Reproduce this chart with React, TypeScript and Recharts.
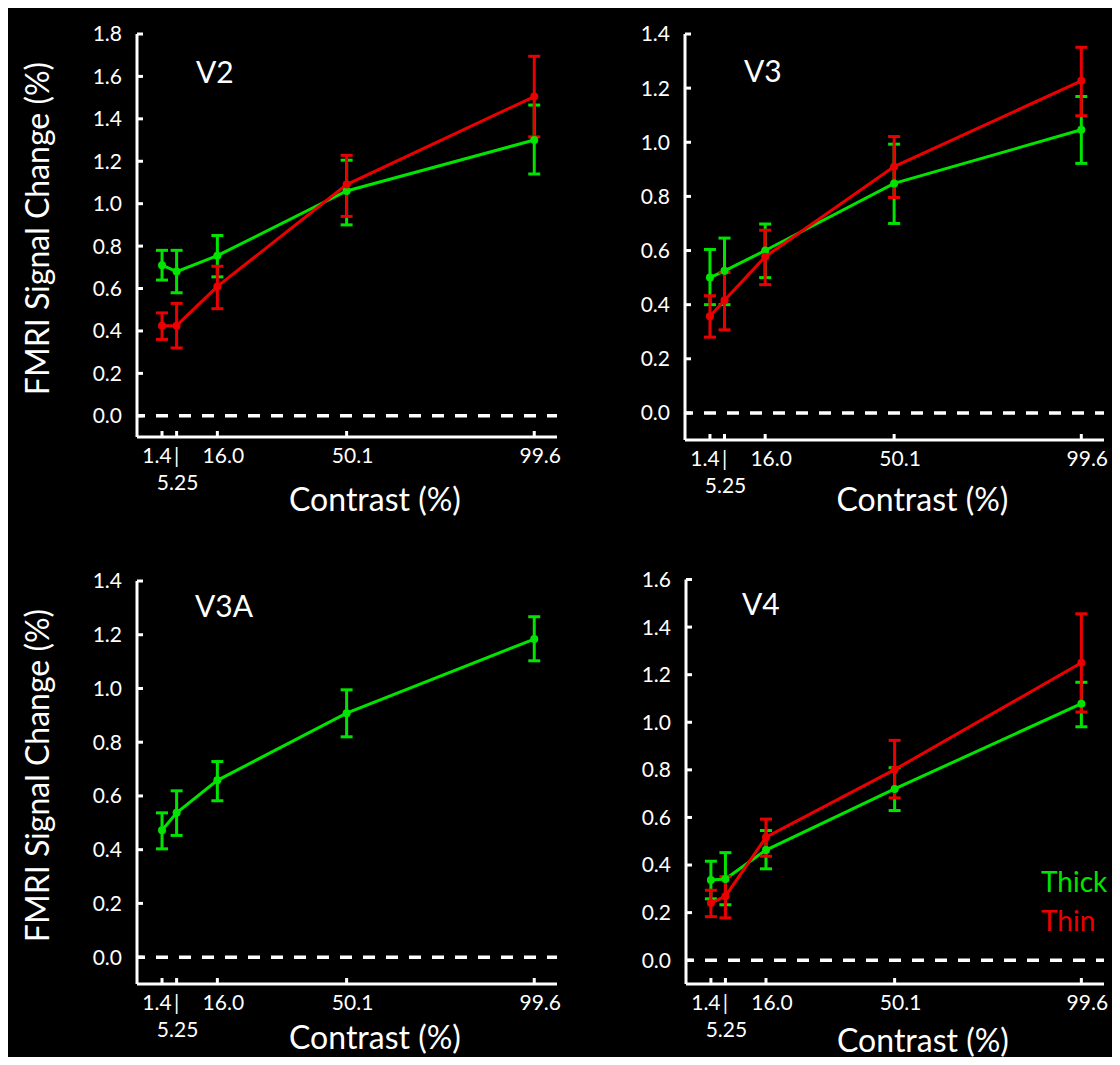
import { LineChart, Line, XAxis, YAxis, ReferenceLine, ErrorBar, Legend } from 'recharts';

const GREEN = '#00e400';
const RED = '#ea0000';
const WHITE = '#ffffff';
const FONT = "Lato, 'Open Sans', sans-serif";

// contrast levels (%) shared by all four areas
const contrast = [1.4, 5.25, 16.0, 50.1, 99.6];
const xTicks = [1.4, 5.25, 16.0, 50.1, 99.6];
const xDomain = [-5.2, 105.6];

const ticks18 = [0, 0.2, 0.4, 0.6, 0.8, 1.0, 1.2, 1.4, 1.6, 1.8];
const ticks14 = [0, 0.2, 0.4, 0.6, 0.8, 1.0, 1.2, 1.4];
const ticks16 = [0, 0.2, 0.4, 0.6, 0.8, 1.0, 1.2, 1.4, 1.6];

// V2
const v2Thick = [0.71, 0.68, 0.755, 1.06, 1.30];
const v2ThickLo = [0.64, 0.58, 0.655, 0.90, 1.14];
const v2ThickHi = [0.78, 0.78, 0.85, 1.205, 1.465];
const v2Thin = [0.425, 0.425, 0.61, 1.09, 1.505];
const v2ThinLo = [0.36, 0.32, 0.505, 0.94, 1.315];
const v2ThinHi = [0.485, 0.53, 0.705, 1.228, 1.695];

// V3
const v3Thick = [0.50, 0.525, 0.60, 0.848, 1.046];
const v3ThickLo = [0.40, 0.40, 0.50, 0.70, 0.922];
const v3ThickHi = [0.604, 0.646, 0.698, 0.993, 1.169];
const v3Thin = [0.357, 0.416, 0.577, 0.91, 1.227];
const v3ThinLo = [0.28, 0.307, 0.474, 0.796, 1.098];
const v3ThinHi = [0.433, 0.519, 0.675, 1.021, 1.351];

// V3A (thick only)
const v3aThick = [0.472, 0.537, 0.658, 0.908, 1.184];
const v3aThickLo = [0.403, 0.453, 0.582, 0.82, 1.103];
const v3aThickHi = [0.537, 0.619, 0.728, 0.995, 1.267];

// V4
const v4Thick = [0.337, 0.341, 0.463, 0.72, 1.078];
const v4ThickLo = [0.258, 0.233, 0.384, 0.629, 0.981];
const v4ThickHi = [0.416, 0.452, 0.545, 0.809, 1.168];
const v4Thin = [0.24, 0.269, 0.517, 0.801, 1.25];
const v4ThinLo = [0.183, 0.178, 0.437, 0.682, 1.043];
const v4ThinHi = [0.294, 0.351, 0.593, 0.924, 1.456];

type Row = { c: number; thick: number; thickErr: number[]; thin?: number; thinErr?: number[] };

function buildRows(
  thick: number[], thickLo: number[], thickHi: number[],
  thin?: number[], thinLo?: number[], thinHi?: number[],
): Row[] {
  return contrast.map((c, i) => {
    const r: Row = { c, thick: thick[i], thickErr: [thick[i] - thickLo[i], thickHi[i] - thick[i]] };
    if (thin && thinLo && thinHi) {
      r.thin = thin[i];
      r.thinErr = [thin[i] - thinLo[i], thinHi[i] - thin[i]];
    }
    return r;
  });
}

function XTick({ x, y, payload }: any) {
  const v = payload.value as number;
  const common = { fill: WHITE, fontSize: 21, textAnchor: 'middle' as const, dominantBaseline: 'central' as const };
  if (v === 1.4) return <text x={x - 5} y={y + 17} {...common}>1.4</text>;
  if (v === 5.25) {
    return (
      <g>
        <text x={x} y={y + 17} {...common}>|</text>
        <text x={x + 1} y={y + 44} {...common}>5.25</text>
      </g>
    );
  }
  return <text x={x + 6} y={y + 17} {...common}>{v.toFixed(1)}</text>;
}

function LegendBox({ payload }: any) {
  return (
    <div style={{ fontSize: 28, lineHeight: '39px', textAlign: 'left', fontFamily: FONT }}>
      {(payload || []).map((p: any) => (
        <div key={p.value} style={{ color: p.color }}>{p.value}</div>
      ))}
    </div>
  );
}

interface PanelProps {
  title: string;
  rows: Row[];
  hasThin: boolean;
  yMax: number;
  yTicks: number[];
  left: number;
  top: number;
  height: number;
  marginTop: number;
  marginRight: number;
  yWidth: number;
  xHeight: number;
  xLabelDy: number;
  titleLeft: number;
  titleTop: number;
  showYLabel?: boolean;
  showLegend?: boolean;
}

function Panel(p: PanelProps) {
  const W = 556;
  return (
    <div style={{ position: 'absolute', left: p.left, top: p.top, width: W, height: p.height }}>
      <LineChart
        width={W}
        height={p.height}
        data={p.rows}
        margin={{ top: p.marginTop, right: p.marginRight, left: 0, bottom: 0 }}
      >
        <XAxis
          dataKey="c"
          type="number"
          domain={xDomain}
          ticks={xTicks}
          allowDataOverflow
          height={p.xHeight}
          tickSize={-6}
          tickMargin={6}
          axisLine={{ stroke: WHITE, strokeWidth: 3 }}
          tickLine={{ stroke: WHITE, strokeWidth: 3 }}
          tick={<XTick />}
          interval={0}
          label={(lp: any) => {
            const vb = lp.viewBox;
            return (
              <text
                x={vb.x + vb.width / 2 + 28}
                y={vb.y + p.xLabelDy}
                fill={WHITE}
                fontSize={32}
                textAnchor="middle"
                dominantBaseline="central"
              >Contrast (%)</text>
            );
          }}
        />
        <YAxis
          type="number"
          domain={[-0.1, p.yMax]}
          ticks={p.yTicks}
          allowDataOverflow
          width={p.yWidth}
          tickSize={-6}
          tickMargin={21}
          interval={0}
          axisLine={{ stroke: WHITE, strokeWidth: 3 }}
          tickLine={{ stroke: WHITE, strokeWidth: 3 }}
          tick={{ fill: WHITE, fontSize: 21 }}
          tickFormatter={(v: number) => v.toFixed(1)}
          label={p.showYLabel ? (lp: any) => {
            const vb = lp.viewBox;
            const cx = vb.x + 28;
            const cy = vb.y + vb.height / 2 - 7;
            return (
              <text
                x={cx}
                y={cy}
                transform={`rotate(-90 ${cx} ${cy})`}
                fill={WHITE}
                fontSize={32}
                textAnchor="middle"
                dominantBaseline="central"
              >FMRI Signal Change (%)</text>
            );
          } : undefined}
        />
        <ReferenceLine y={0} stroke={WHITE} strokeWidth={3.5} strokeDasharray="12 11" strokeDashoffset={4} />
        <Line
          dataKey="thick"
          name="Thick"
          stroke={GREEN}
          strokeWidth={3}
          dot={{ r: 4, fill: GREEN, stroke: GREEN, strokeWidth: 0 }}
          isAnimationActive={false}
        >
          <ErrorBar dataKey="thickErr" direction="y" width={6} stroke={GREEN} strokeWidth={3} isAnimationActive={false} />
        </Line>
        {p.hasThin && (
          <Line
            dataKey="thin"
            name="Thin"
            stroke={RED}
            strokeWidth={3}
            dot={{ r: 4, fill: RED, stroke: RED, strokeWidth: 0 }}
            isAnimationActive={false}
          >
            <ErrorBar dataKey="thinErr" direction="y" width={6} stroke={RED} strokeWidth={3} isAnimationActive={false} />
          </Line>
        )}
        {p.showLegend && (
          <Legend
            layout="horizontal"
            verticalAlign="middle"
            align="center"
            content={<LegendBox />}
            wrapperStyle={{ left: 477, top: 326, width: 'auto' }}
          />
        )}
      </LineChart>
      <div
        style={{
          position: 'absolute', left: p.titleLeft, top: p.titleTop,
          color: WHITE, fontSize: 30, lineHeight: '30px', fontFamily: FONT,
        }}
      >{p.title}</div>
    </div>
  );
}

const v2Rows = buildRows(v2Thick, v2ThickLo, v2ThickHi, v2Thin, v2ThinLo, v2ThinHi);
const v3Rows = buildRows(v3Thick, v3ThickLo, v3ThickHi, v3Thin, v3ThinLo, v3ThinHi);
const v3aRows = buildRows(v3aThick, v3aThickLo, v3aThickHi);
const v4Rows = buildRows(v4Thick, v4ThickLo, v4ThickHi, v4Thin, v4ThinLo, v4ThinHi);

export default function App() {
  return (
    <div
      style={{
        position: 'relative', width: 1112, height: 1057, marginBottom: -8,
        background: '#000', fontFamily: FONT, overflow: 'hidden',
      }}
    >
      <Panel title="V2" rows={v2Rows} hasThin yMax={1.8} yTicks={ticks18}
        left={0} top={0} height={528} marginTop={26} marginRight={7} yWidth={129} xHeight={99} xLabelDy={61}
        titleLeft={188} titleTop={48} showYLabel />
      <Panel title="V3" rows={v3Rows} hasThin yMax={1.4} yTicks={ticks14}
        left={556} top={0} height={528} marginTop={26} marginRight={16} yWidth={121} xHeight={96} xLabelDy={58}
        titleLeft={180} titleTop={47} />
      <Panel title="V3A" rows={v3aRows} hasThin={false} yMax={1.4} yTicks={ticks14}
        left={0} top={528} height={529} marginTop={45} marginRight={7} yWidth={129} xHeight={81} xLabelDy={52}
        titleLeft={187} titleTop={54} showYLabel />
      <Panel title="V4" rows={v4Rows} hasThin yMax={1.6} yTicks={ticks16}
        left={556} top={528} height={529} marginTop={43.5} marginRight={16} yWidth={122} xHeight={81} xLabelDy={55}
        titleLeft={178} titleTop={52} showLegend />
    </div>
  );
}
